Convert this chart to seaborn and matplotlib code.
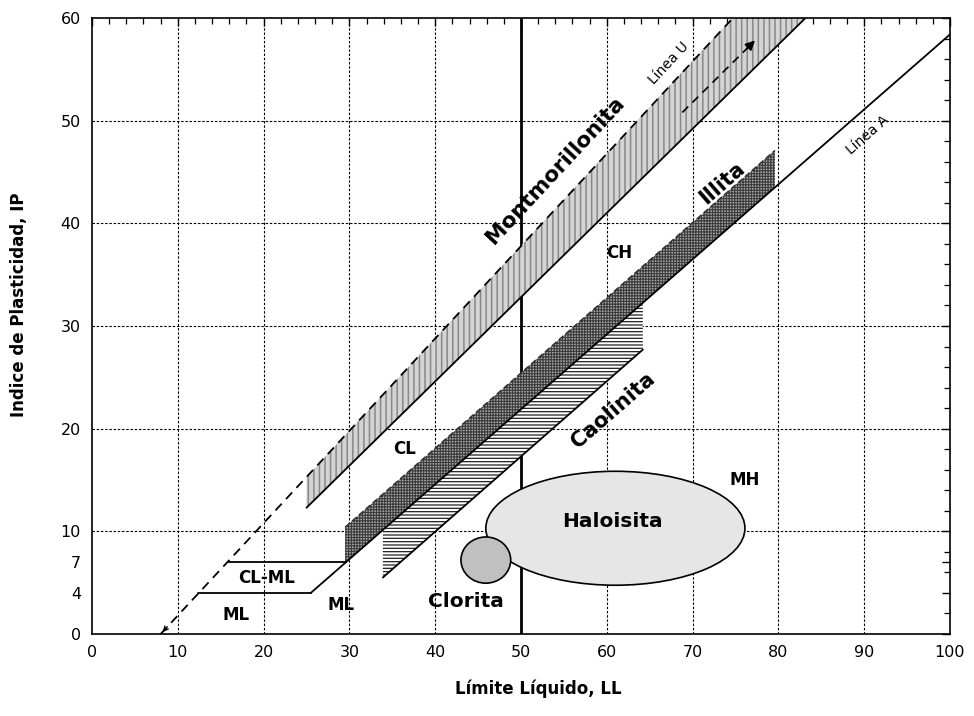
import numpy as np
import pandas as pd
import matplotlib
matplotlib.use("Agg")
import matplotlib.pyplot as plt
from matplotlib.patches import Ellipse
import seaborn as sns

# --- axis ticks -------------------------------------------------------------
ll_ticks = [0, 10, 20, 30, 40, 50, 60, 70, 80, 90, 100]
ip_ticks = [0, 4, 7, 10, 20, 30, 40, 50, 60]

# --- reference lines (end points, LL / IP) ----------------------------------
line_u_ll = [8.0, 74.7]
line_u_ip = [0.0, 60.0]
line_a_ll = [25.5, 100.0]
line_a_ip = [4.0, 58.4]
cl_ml_top_ll = [15.8, 29.6]
cl_ml_top_ip = [7.0, 7.0]
cl_ml_bot_ll = [12.4, 25.5]
cl_ml_bot_ip = [4.0, 4.0]
ll_limit = 50

# --- mineral zones ----------------------------------------------------------
mont_ll = [25.0, 83.4]
mont_upper = [15.3, 67.9]
mont_lower = [12.3, 60.2]

illita_ll = [29.5, 79.6]
illita_upper = [10.4, 47.1]
illita_lower = [6.9, 43.5]

caol_ll = [33.9, 64.2]
caol_upper = [10.1, 32.3]
caol_lower = [5.5, 27.7]

haloisita_center = (61.0, 10.3)
haloisita_size = (30.2, 11.1)
clorita_center = (45.9, 7.2)
clorita_size = (5.8, 4.5)

arrow_ll = [68.8, 77.5]
arrow_ip = [50.8, 58.0]

sns.set_style("white")
plt.rcParams["font.family"] = ["DejaVu Sans"]
plt.rcParams.update({"text.color": "black", "axes.labelcolor": "black",
                     "xtick.color": "black", "ytick.color": "black"})

fig = plt.figure(figsize=(9.74, 7.16), dpi=100)
ax = fig.add_axes([92 / 974, 1 - 634 / 716, 858 / 974, 616 / 716])
ax.set_xlim(0, 100)
ax.set_ylim(0, 60)

# grid
for g in range(10, 100, 10):
    if g != ll_limit:
        ax.axvline(g, color="black", lw=0.8, ls=(0, (2.2, 1.6)), zorder=1)
for g in range(10, 60, 10):
    ax.axhline(g, color="black", lw=0.8, ls=(0, (2.2, 1.6)), zorder=1)

# zones
with plt.rc_context({"hatch.linewidth": 1.1}):
    ax.fill_between(mont_ll, mont_lower, mont_upper, facecolor="#d4d4d4",
                    edgecolor="#888888", hatch="|||", linewidth=0, zorder=2)
with plt.rc_context({"hatch.linewidth": 0.8}):
    ax.fill_between(illita_ll, illita_lower, illita_upper, facecolor="#a8a8a8",
                    edgecolor="#3a3a3a", hatch="++++++", linewidth=0, zorder=2)
with plt.rc_context({"hatch.linewidth": 0.9}):
    ax.fill_between(caol_ll, caol_lower, caol_upper, facecolor="white",
                    edgecolor="#202020", hatch="-----", linewidth=0, zorder=2)

# limit LL = 50
ax.axvline(ll_limit, color="black", lw=2.0, zorder=1.5)

# lines
lines = pd.DataFrame({
    "LL": line_u_ll + line_a_ll,
    "IP": line_u_ip + line_a_ip,
    "linea": ["U", "U", "A", "A"],
})
sns.lineplot(data=lines[lines.linea == "U"], x="LL", y="IP", ax=ax,
             color="black", lw=1.3, dashes=False, zorder=4,
             linestyle=(0, (5, 3.5)), estimator=None)
sns.lineplot(data=lines[lines.linea == "A"], x="LL", y="IP", ax=ax,
             color="black", lw=1.3, zorder=4, estimator=None)
ax.plot(mont_ll, mont_lower, color="black", lw=1.3, zorder=4)
ax.plot(illita_ll, illita_upper, color="#303030", lw=1.1,
        ls=(0, (4, 2)), zorder=4)
ax.plot(caol_ll, caol_lower, color="black", lw=1.3, zorder=4)
ax.plot(cl_ml_top_ll, cl_ml_top_ip, color="black", lw=1.3, zorder=4)
ax.plot(cl_ml_bot_ll, cl_ml_bot_ip, color="black", lw=1.3, zorder=4)

# dashed arrow
ax.plot([arrow_ll[0], arrow_ll[1] - 0.6], [arrow_ip[0], arrow_ip[1] - 0.5],
        color="black", lw=1.2, ls=(0, (5, 3.5)), zorder=4)
ax.annotate("", xy=(arrow_ll[1], arrow_ip[1]),
            xytext=(arrow_ll[1] - 1.4, arrow_ip[1] - 1.16),
            arrowprops=dict(arrowstyle="-|>", color="black", lw=1.2,
                            mutation_scale=14), zorder=5)
ax.annotate("", xy=(line_u_ll[0], line_u_ip[0]),
            xytext=(line_u_ll[0] + 1.0, line_u_ip[0] + 0.9),
            arrowprops=dict(arrowstyle="->", color="black", lw=1.0,
                            mutation_scale=8), zorder=5)

# ellipses
ax.add_patch(Ellipse(haloisita_center, *haloisita_size, facecolor="#e6e6e6",
                     edgecolor="black", lw=1.2, zorder=5))
ax.add_patch(Ellipse(clorita_center, *clorita_size, facecolor="#c0c0c0",
                     edgecolor="black", lw=1.2, zorder=6))

# labels
ang_u = np.degrees(np.arctan(0.9))
ang_a = np.degrees(np.arctan(0.73))
lab = dict(fontweight="bold", ha="center", va="center", zorder=7,
           family="DejaVu Sans", color="black")
ax.text(54.0, 45.2, "Montmorillonita", fontsize=15.5, rotation=ang_u,
        transform_rotates_text=True, rotation_mode="anchor", **lab)
ax.text(73.4, 43.9, "Illita", fontsize=15, rotation=ang_a,
        transform_rotates_text=True, rotation_mode="anchor", **lab)
ax.text(60.7, 21.8, "Caolinita", fontsize=15, rotation=ang_a,
        transform_rotates_text=True, rotation_mode="anchor", **lab)
ax.text(60.6, 11.0, "Haloisita", fontsize=14.5, **lab)
ax.text(43.6, 3.2, "Clorita", fontsize=14.5, **lab)
ax.text(61.4, 37.1, "CH", fontsize=12, **lab)
ax.text(36.4, 18.0, "CL", fontsize=12, **lab)
ax.text(76.1, 15.0, "MH", fontsize=12, **lab)
ax.text(20.4, 5.5, "CL-ML", fontsize=12, **lab)
ax.text(16.8, 1.85, "ML", fontsize=12, **lab)
ax.text(29.0, 2.8, "ML", fontsize=12, **lab)
small = dict(ha="center", va="center", zorder=7, fontsize=10, color="black",
             transform_rotates_text=True, rotation_mode="anchor")
ax.text(67.2, 55.6, "Línea U", rotation=ang_u, **small)
ax.text(90.4, 48.6, "Línea A", rotation=ang_a, **small)

# ticks and spines
ax.set_xticks(ll_ticks)
ax.set_yticks(ip_ticks)
ax.set_xticks(np.arange(0, 101, 2), minor=True)
ax.set_yticks(np.arange(0, 61, 2), minor=True)
ax.tick_params(which="both", direction="in", top=True, right=True,
               color="black", labelcolor="black")
ax.tick_params(which="major", length=6, width=1.0, labelsize=11.5, pad=8)
ax.tick_params(which="minor", length=4, width=0.9)
for s in ax.spines.values():
    s.set_color("black")
    s.set_linewidth(1.2)

ax.set_xlabel("Límite Líquido, LL", fontsize=12, fontweight="bold")
ax.set_ylabel("Indice de Plasticidad, IP", fontsize=12, fontweight="bold")
ax.xaxis.set_label_coords((538 - 92) / 858, -(680 - 634) / 616)
ax.yaxis.set_label_coords(-(92 - 28) / 858, (634 - 305) / 616)

fig.savefig("out.png", dpi=100)
